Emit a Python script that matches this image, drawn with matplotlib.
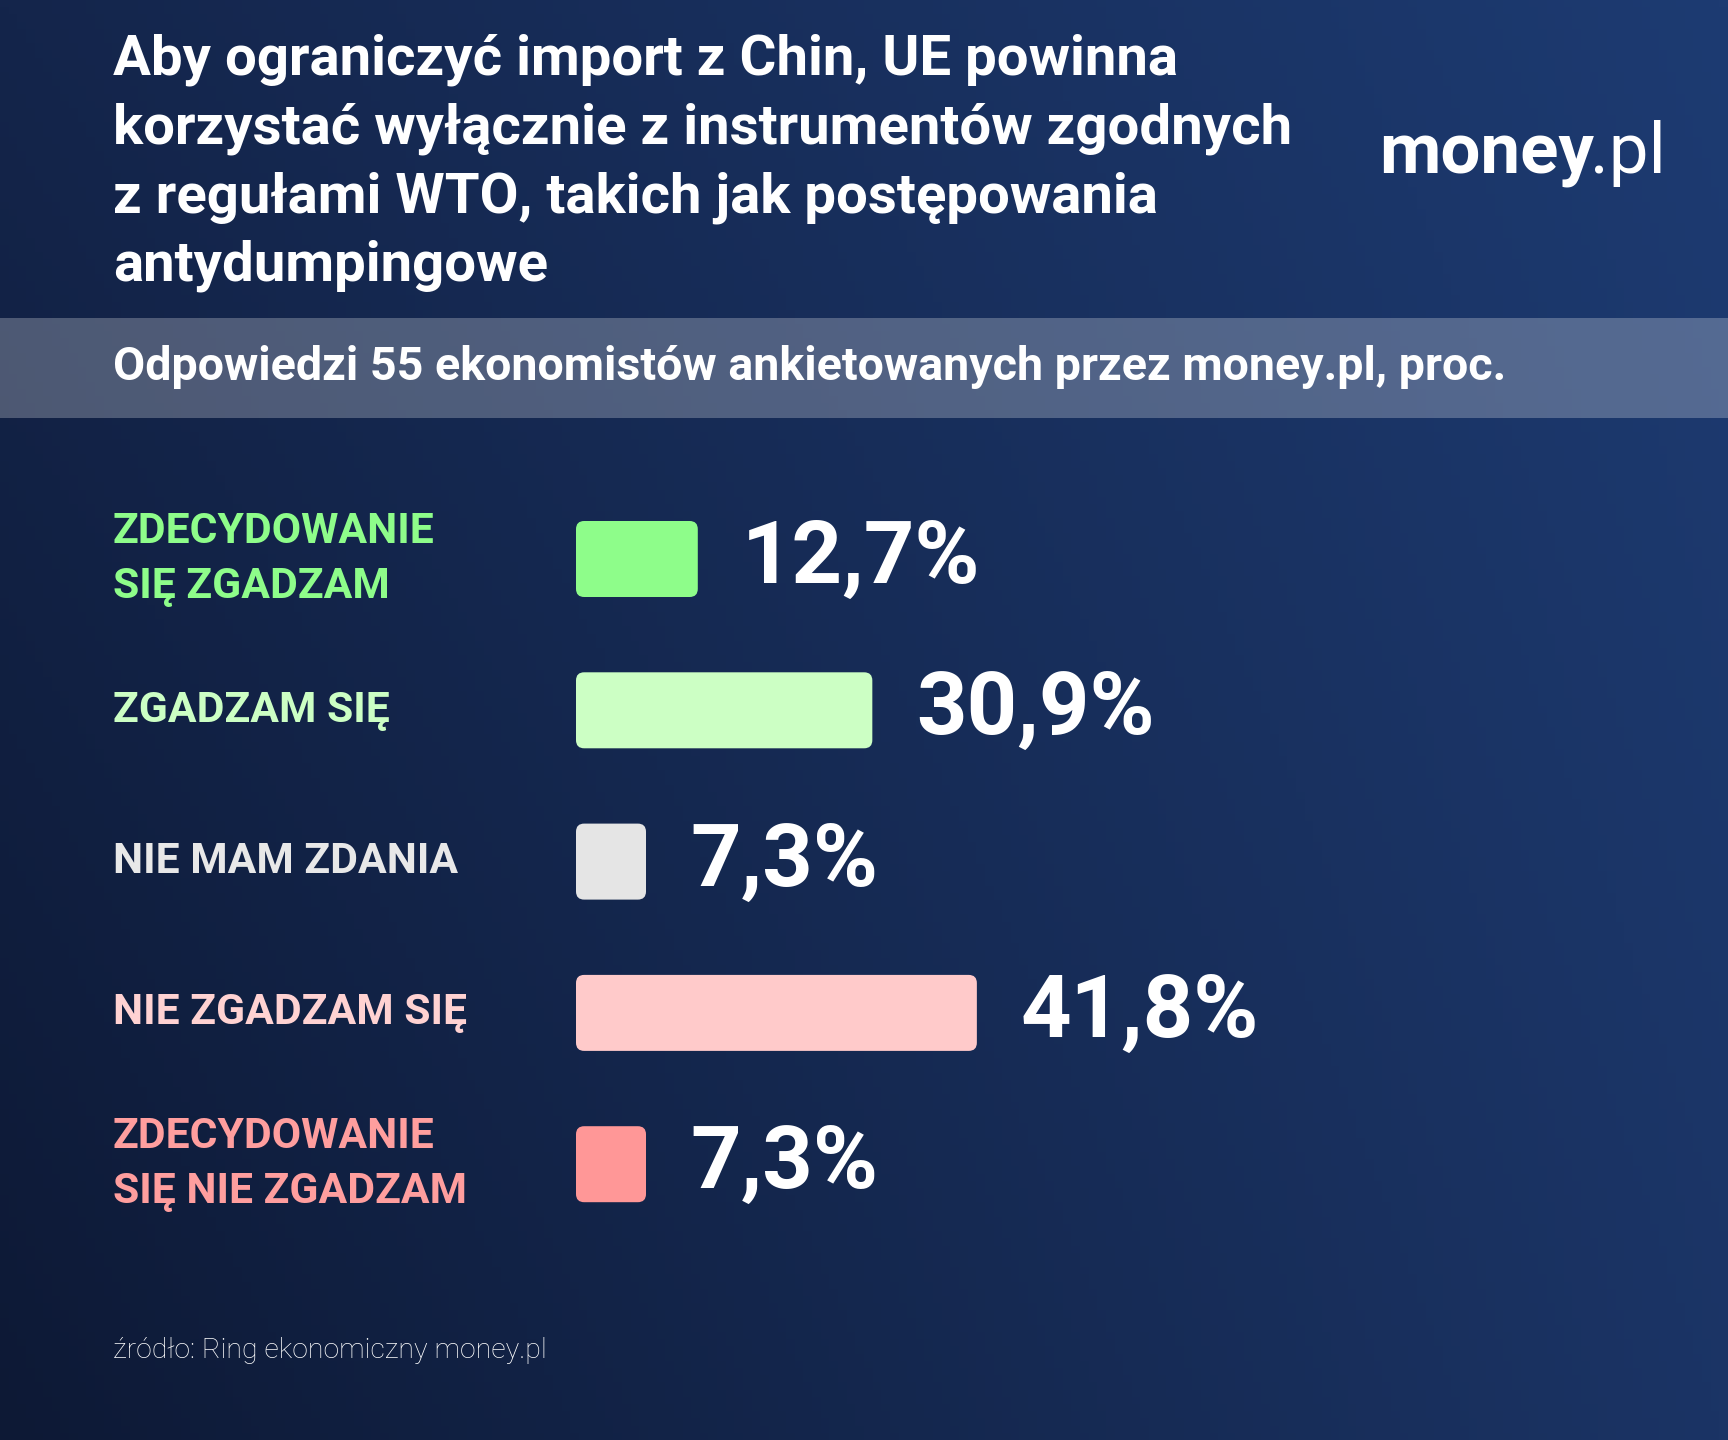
import numpy as np
import matplotlib
matplotlib.use("Agg")
import matplotlib.pyplot as plt
from matplotlib.patches import FancyBboxPatch, Rectangle

plt.rcParams['font.family'] = ['Roboto', 'DejaVu Sans']

# chart content
title_lines = [
    "Aby ograniczyć import z Chin, UE powinna",
    "korzystać wyłącznie z instrumentów zgodnych",
    "z regułami WTO, takich jak postępowania",
    "antydumpingowe",
]
subtitle = "Odpowiedzi 55 ekonomistów ankietowanych przez money.pl, proc."
source = "źródło: Ring ekonomiczny money.pl"

categories = ["ZDECYDOWANIE\nSIĘ ZGADZAM", "ZGADZAM SIĘ", "NIE MAM ZDANIA",
              "NIE ZGADZAM SIĘ", "ZDECYDOWANIE\nSIĘ NIE ZGADZAM"]
values = [12.7, 30.9, 7.3, 41.8, 7.3]
value_labels = ["12,7%", "30,9%", "7,3%", "41,8%", "7,3%"]
bar_colors = ["#8efd8a", "#ccffc4", "#e5e5e5", "#ffcaca", "#ff9797"]
label_colors = ["#8efd8a", "#ccffc4", "#e8e8e8", "#ffd2d2", "#ff9e9e"]

# canvas in pixels
W, H = 1728, 1440
DPI = 100
PT = 72 / DPI  # points per pixel

fig = plt.figure(figsize=(W / DPI, H / DPI), dpi=DPI)

bg = fig.add_axes([0, 0, 1, 1])
bg.set_xlim(0, W)
bg.set_ylim(H, 0)
bg.axis('off')

# background gradient, bilinear between corner colours
def hex2rgb(h):
    h = h.lstrip('#')
    return np.array([int(h[i:i + 2], 16) for i in (0, 2, 4)]) / 255.0

tl, tr = hex2rgb("#14254b"), hex2rgb("#1d3b72")
bl, br = hex2rgb("#0d1935"), hex2rgb("#1b3465")
gx = np.linspace(0, 1, 200)[None, :, None]
gy = np.linspace(0, 1, 200)[:, None, None]
grad = (1 - gy) * ((1 - gx) * tl + gx * tr) + gy * ((1 - gx) * bl + gx * br)
bg.imshow(grad, extent=[0, W, H, 0], aspect='auto', zorder=0)

# subtitle band
bg.add_patch(Rectangle((0, 318), W, 100, facecolor='white', alpha=0.25,
                       edgecolor='none', zorder=1))

# title
for i, line in enumerate(title_lines):
    bg.text(113, 75 + 68.5 * i, line, fontsize=40.6, fontweight='bold',
            color='white', va='baseline', ha='left', zorder=3)

bg.text(113, 380, subtitle, fontsize=33.6, fontweight='bold', color='white',
        va='baseline', ha='left', zorder=3)

# logo
bg.text(1379, 173, "money", fontsize=51, fontweight='bold', color='white',
        va='baseline', ha='left', zorder=3)
bg.text(1590, 173, ".pl", fontsize=51, fontweight='normal', color='white',
        va='baseline', ha='left', zorder=3)

# source
bg.text(113, 1358, source, fontsize=20.5, fontweight='light', color='white',
        va='baseline', ha='left', zorder=3)

# bar axes: 0..100 % mapped onto pixels
x0 = 576
px_per_pct = 9.59
row = 151.3
top = 559 - row / 2
ax = fig.add_axes([x0 / W, 1 - (top + 5 * row) / H, 100 * px_per_pct / W, 5 * row / H])
ax.set_xlim(0, 100)
ax.set_ylim(4.5, -0.5)
ax.axis('off')
ax.patch.set_alpha(0)

aspect = px_per_pct / row
bar_h = 76 / row
for i, (v, c) in enumerate(zip(values, bar_colors)):
    ax.add_patch(FancyBboxPatch((0, i - bar_h / 2), v, bar_h,
                                boxstyle="round,pad=0,rounding_size=0.85",
                                mutation_aspect=aspect, facecolor=c,
                                edgecolor='none'))
    ax.annotate(value_labels[i], xy=(v, i), xytext=(44 * PT, -24 * PT),
                textcoords='offset points', fontsize=63.5, fontweight='bold',
                color='white', va='baseline', ha='left')
    ax.annotate(categories[i], xy=(113 / W, i),
                xycoords=('figure fraction', 'data'), fontsize=30.7,
                fontweight='bold', color=label_colors[i], va='center',
                ha='left', linespacing=1.45)

fig.savefig("out.png", dpi=DPI)
